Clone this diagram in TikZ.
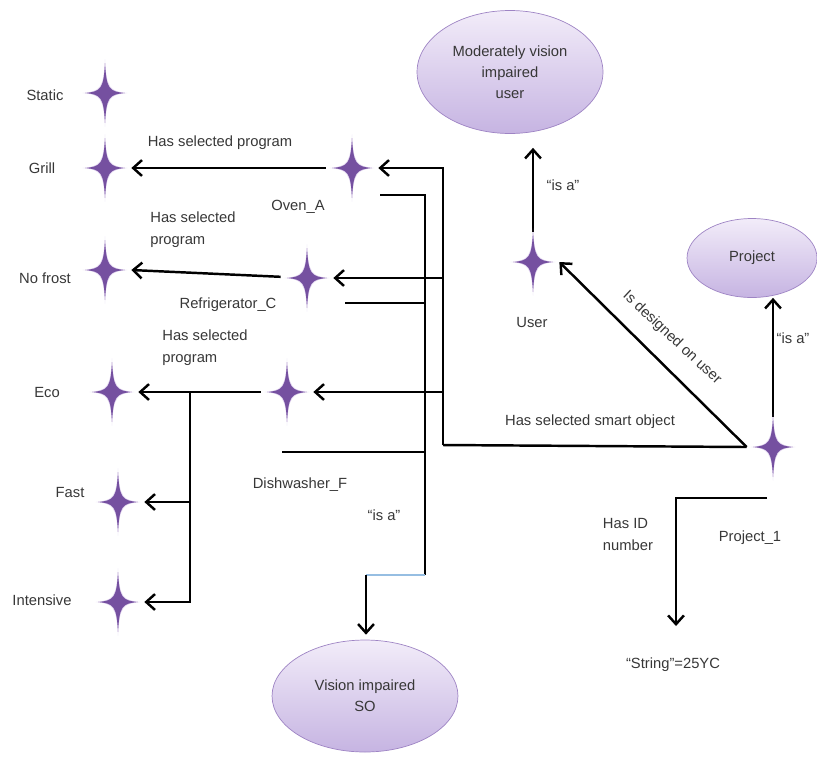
\documentclass[tikz,border=0pt]{standalone}
\usepackage{fontspec}
\setmainfont{Liberation Sans}
\usetikzlibrary{shapes.geometric, arrows.meta, positioning}
\definecolor{starpurple}{RGB}{117,80,160}
\definecolor{starglow}{RGB}{196,172,224}
\definecolor{lavendertop}{RGB}{242,236,249}
\definecolor{lavenderbot}{RGB}{198,180,226}
\definecolor{lavenderedge}{RGB}{158,132,196}
\definecolor{textgrey}{RGB}{55,55,55}
\definecolor{glitchblue}{RGB}{150,190,226}
\tikzset{
  basetext/.style={font=\fontsize{8.4}{12.5}\selectfont, text=textgrey, align=left, inner sep=1pt},
  classnode/.style={ellipse, draw=lavenderedge, top color=lavendertop, bottom color=lavenderbot,
    align=center, inner sep=0pt, font=\fontsize{8.4}{12}\selectfont, text=textgrey},
  sparkle/.style={rectangle, inner sep=0pt, minimum width=1.04cm, minimum height=1.2cm},
  link/.style={line width=1.4pt, color=black},
  arrow/.style={link, -{Straight Barb[length=5pt,width=9pt]}},
  sparkle star/.pic={
    \fill[starglow, opacity=0.5, scale=1.12] (0,-30) .. controls (1.5,-4) and (4,-1.5) .. (20,0)
      .. controls (4,1.5) and (1.5,4) .. (0,30) .. controls (-1.5,4) and (-4,1.5) .. (-20,0)
      .. controls (-4,-1.5) and (-1.5,-4) .. cycle;
    \fill[starpurple] (0,-30) .. controls (1.5,-4) and (4,-1.5) .. (20,0)
      .. controls (4,1.5) and (1.5,4) .. (0,30) .. controls (-1.5,4) and (-4,1.5) .. (-20,0)
      .. controls (-4,-1.5) and (-1.5,-4) .. cycle;
  }
}
\begin{document}
\begin{tikzpicture}[x=0.02cm, y=-0.02cm]
  \useasboundingbox (0,0) rectangle (817,762);

  % instances
  \node[sparkle] (static) at (105,93) {};
  \node[sparkle] (grill) at (105,168) {};
  \node[sparkle] (nofrost) at (105,270) {};
  \node[sparkle] (eco) at (112,392) {};
  \node[sparkle] (fast) at (118,502) {};
  \node[sparkle] (intensive) at (118,602) {};
  \node[sparkle] (oven) at (352,168) {};
  \node[sparkle] (fridge) at (307,278) {};
  \node[sparkle] (dish) at (287,392) {};
  \node[sparkle] (user) at (533,262) {};
  \node[sparkle] (proj1) at (773,447) {};

  % classes
  \node[classnode, minimum width=3.72cm, minimum height=2.46cm] (mvuser) at (510,72) {Moderately vision\\impaired\\user};
  \node[classnode, minimum width=2.6cm, minimum height=1.58cm] (project) at (752,258) {Project};
  \node[classnode, minimum width=3.72cm, minimum height=2.24cm] (visionso) at (365,696) {Vision impaired\\SO};

  % instance names
  \node[basetext] (staticlbl) at (45,95) {Static};
  \node[basetext] (grilllbl) at (42,168) {Grill};
  \node[basetext] (nofrostlbl) at (45,278) {No frost};
  \node[basetext] (ecolbl) at (47,392) {Eco};
  \node[basetext] (fastlbl) at (70,492) {Fast};
  \node[basetext] (intensivelbl) at (42,600) {Intensive};
  \node[basetext] (ovenlbl) at (298,207) {Oven\_A};
  \node[basetext] (fridgelbl) at (228,305) {Refrigerator\_C};
  \node[basetext] (dishlbl) at (300,485) {Dishwasher\_F};
  \node[basetext] (userlbl) at (532,322) {User};
  \node[basetext] (proj1lbl) at (750,538) {Project\_1};
  \node[basetext] (stringval) at (673,665) {“String”=25YC};

  % relation names
  \node[basetext] (progoven) at (220,143) {Has selected program};
  \node[basetext] (progfridge) at (193,230) {Has selected\\program};
  \node[basetext] (progdish) at (205,348) {Has selected\\program};
  \node[basetext] (isaso) at (384,515) {“is a”};
  \node[basetext] (isauser) at (563,185) {“is a”};
  \node[basetext] (isaproject) at (793,338) {“is a”};
  \node[basetext] (selsmart) at (590,422) {Has selected smart object};
  \node[basetext, rotate=-43] (designed) at (672,338) {Is designed on user};
  \node[basetext] (hasid) at (628,534) {Has ID\\number};

  % programs
  \draw[arrow] (oven) -- (grill.east);
  \draw[arrow] (fridge) -- (nofrost.east);
  \draw[arrow] (dish) -- (eco.east);
  \coordinate (ecofork) at (190,392);
  \draw[arrow] (ecofork) |- (fast.east);
  \draw[arrow] (ecofork) |- (intensive.east);

  % smart objects of the project
  \coordinate (selbus) at (443,445);
  \draw[link] (proj1.west) -- (selbus);
  \draw[arrow] (selbus) |- (oven.east);
  \draw[arrow] (selbus) |- (fridge.east);
  \draw[arrow] (selbus) |- (dish.east);

  % is a (smart objects)
  \coordinate (ovenisa) at (380,195);
  \coordinate (fridgeisa) at (345,303);
  \coordinate (dishisa) at (282,452);
  \coordinate (isabus) at (425,575);
  \coordinate (isaturn) at (366,575);
  \draw[link] (ovenisa) -| (isabus);
  \draw[link] (fridgeisa) -- (fridgeisa -| isabus);
  \draw[link] (dishisa) -- (dishisa -| isabus);
  \draw[glitchblue, line width=0.8pt] (isabus) -- (isaturn);
  \draw[arrow, shorten >=0.1cm] (isaturn) -- (isaturn |- visionso.north);

  % user and project
  \draw[arrow, shorten >=0.28cm] (user.north) -- (user.north |- mvuser.south);
  \draw[arrow] (proj1.north) -- (proj1.north |- project.south);
  \draw[arrow] (proj1.west) -- (user.east);
  \coordinate (idstart) at (767,498);
  \coordinate (idbend) at (676,498);
  \draw[arrow, shorten >=0.6cm] (idstart) -- (idbend) -- (idbend |- stringval.north);

  % stars on top
  \foreach \s in {static,grill,nofrost,eco,fast,intensive,oven,fridge,dish,user,proj1}
    \pic at (\s) {sparkle star};
\end{tikzpicture}
\end{document}
